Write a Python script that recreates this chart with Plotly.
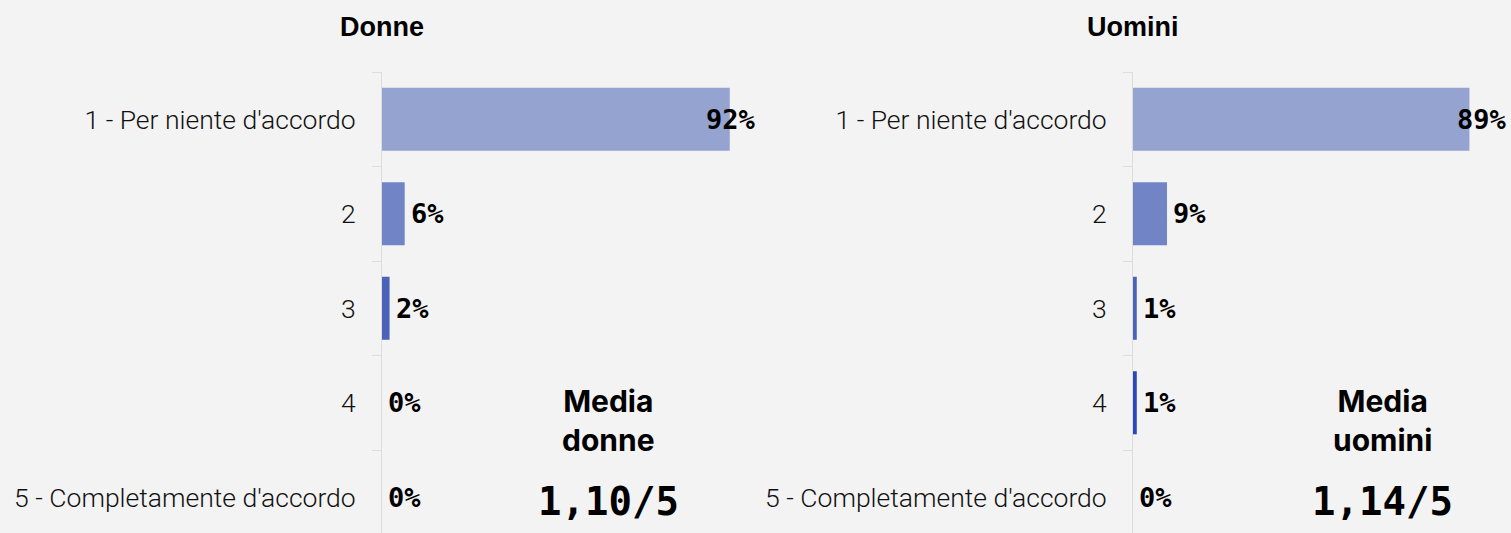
import plotly.graph_objects as go

categories = ["1 - Per niente d'accordo", "2", "3", "4", "5 - Completamente d'accordo"]
donne = [92, 6, 2, 0, 0]
uomini = [89, 9, 1, 1, 0]
bar_colors = ["#95a3d1", "#7184c5", "#4a63b8", "#2b47b9", "#1432aa"]
titles = ["Donne", "Uomini"]
media_labels = ["Media<br>donne", "Media<br>uomini"]
media_values = ["1,10/5", "1,14/5"]
media_x = [60, 66]

W, H = 1511, 533
TOP = 72
BG = "#f3f3f3"

fig = go.Figure()
annotations = []
series = [donne, uomini]
for i, vals in enumerate(series):
    xa = "x" if i == 0 else "x2"
    ya = "y" if i == 0 else "y2"
    fig.add_trace(go.Bar(
        x=vals, y=categories, orientation="h",
        marker=dict(color=bar_colors, line=dict(width=0)),
        xaxis=xa, yaxis=ya, hoverinfo="skip", showlegend=False,
    ))
    for j, v in enumerate(vals):
        lab_font = dict(family="DejaVu Sans Mono", size=27, color="#000", weight="bold")
        if v > 80:
            annotations.append(dict(x=100, y=j, xref=xa, yref=ya, text=f"{v}%",
                                    xanchor="right", xshift=-2, showarrow=False, font=lab_font))
        else:
            annotations.append(dict(x=v, y=j, xref=xa, yref=ya, text=f"{v}%",
                                    xanchor="left", xshift=4, showarrow=False, font=lab_font))
    # title centered on axis line
    annotations.append(dict(x=0, xref=xa, y=(H - 27) / (H - TOP), yref="paper", text=titles[i],
                            xanchor="center", yanchor="middle", showarrow=False,
                            font=dict(family="Liberation Sans", size=27, color="#000", weight="bold")))
    annotations.append(dict(x=media_x[i], xref=xa, y=(H - 420) / (H - TOP), yref="paper", text=media_labels[i],
                            xanchor="center", yanchor="middle", showarrow=False,
                            font=dict(family="Inter", size=30, color="#000", weight="bold")))
    annotations.append(dict(x=media_x[i], xref=xa, y=(H - 501) / (H - TOP), yref="paper", text=media_values[i],
                            xanchor="center", yanchor="middle", showarrow=False,
                            font=dict(family="DejaVu Sans Mono", size=39, color="#000", weight="bold")))

yax = dict(type="category", categoryorder="array", categoryarray=categories,
           range=[4.378, -0.5], showline=True, linecolor="#dcdcdc", linewidth=1,
           ticks="outside", tickson="boundaries", ticklen=9, tickcolor="#dcdcdc",
           showgrid=False, zeroline=False, ticklabelstandoff=20,
           tickfont=dict(family="Roboto", size=26.5, color="#111", weight=300))
xax = dict(range=[0, 100], showgrid=False, zeroline=False, showticklabels=False, ticks="", showline=False)

fig.update_layout(
    width=W, height=H,
    paper_bgcolor=BG, plot_bgcolor=BG,
    margin=dict(l=0, r=0, t=TOP, b=0),
    bargap=0.333,
    xaxis=dict(domain=[382 / W, 760 / W], anchor="y", **xax),
    xaxis2=dict(domain=[1133 / W, 1.0], anchor="y2", **xax),
    yaxis=dict(domain=[0, 1], anchor="x", **yax),
    yaxis2=dict(domain=[0, 1], anchor="x2", **yax),
    annotations=annotations,
)

fig.write_html("out.html", config={"displayModeBar": False},
               post_script="document.body.style.margin='0';document.body.style.overflow='hidden';")
